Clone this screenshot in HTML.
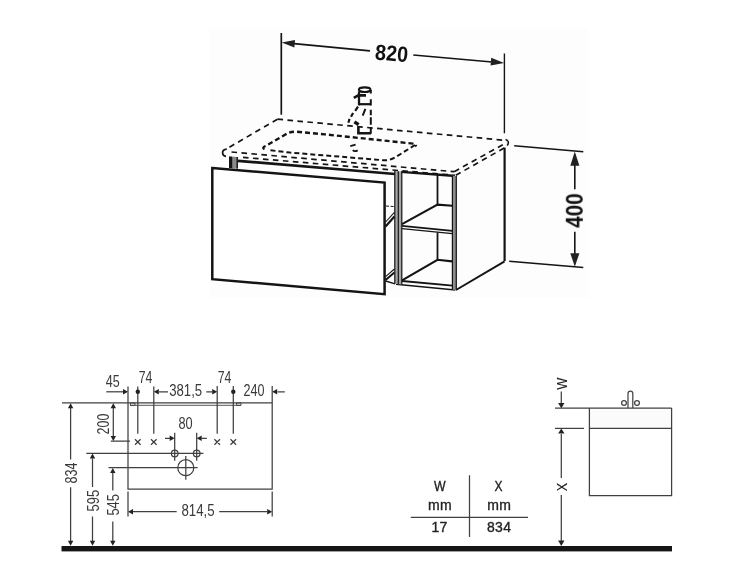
<!DOCTYPE html>
<html>
<head>
<meta charset="utf-8">
<title>Vanity unit 820 technical drawing</title>
<style>
html,body{margin:0;padding:0;background:#fff;}
body{width:750px;height:563px;overflow:hidden;font-family:"Liberation Sans",sans-serif;}
svg{display:block;position:absolute;left:0;top:0;}
text{font-family:"Liberation Sans",sans-serif;}
.d{fill:#3a3a3a;font-size:17px;}
.t{fill:#222;stroke:#222;stroke-width:0.35;font-size:14px;letter-spacing:0.4px;}
.b{fill:#111;font-weight:bold;font-size:22px;}
.ln{stroke:#404040;stroke-width:1.25;fill:none;}
.ar{fill:#222;stroke:none;}
</style>
</head>
<body>
<svg width="750" height="563" viewBox="0 0 750 563">
<defs><filter id="nf" x="-10%" y="-10%" width="120%" height="120%"><feOffset dx="0" dy="0"/></filter></defs>
<rect x="0" y="0" width="750" height="563" fill="#ffffff"/>
<rect x="210" y="29" width="378" height="269" fill="#fdfdfd"/>

<!-- ================= TOP PERSPECTIVE DRAWING ================= -->
<g id="persp" fill="none" stroke="#141414" stroke-linecap="butt" stroke-linejoin="miter">

  <!-- 820 dimension -->
  <g stroke-width="1.7">
    <line x1="281.3" y1="33" x2="281.3" y2="114.7"/>
    <line x1="504.4" y1="53.5" x2="504.4" y2="133.3" stroke-width="1.4"/>
    <line x1="294" y1="43.7" x2="370" y2="50.8"/>
    <line x1="413.3" y1="55" x2="492" y2="62"/>
  </g>
  <path class="ar" d="M281.7 42.4 L295 40 L294.4 47.6 Z"/>
  <path class="ar" d="M504.2 63.1 L491.2 57.8 L490.6 65.4 Z"/>

  <!-- 400 dimension -->
  <g stroke-width="1.6">
    <line x1="514.2" y1="145.8" x2="583.3" y2="151.7"/>
    <line x1="509.2" y1="261.3" x2="583.3" y2="267.5"/>
    <line x1="574.8" y1="165" x2="574.8" y2="189.2"/>
    <line x1="574.8" y1="231.7" x2="574.8" y2="254"/>
  </g>
  <path class="ar" d="M574.8 151.6 L570.3 165.8 L579.4 165.8 Z"/>
  <path class="ar" d="M574.8 266.8 L570.3 253.2 L579.4 253.2 Z"/>

  <!-- countertop (dashed) -->
  <g stroke-width="1.7" stroke-dasharray="5.6 4.4">
    <path d="M277.5 119.2 L507 140.5"/>
    <path d="M277.5 119.2 L227 148.6"/>
    <path d="M231.5 152 L454.2 171.7"/>
    <path d="M243 157.4 L455 175.3"/>
    <path d="M454.2 171.7 L506.7 142.5"/>
    <path d="M455.8 175.3 L505 147.5"/>
  </g>
  <path d="M226.8 149.2 C223.6 149.6 222.4 151.2 222.6 153 C222.8 155 224.2 156.2 226 156.4" stroke-width="1.7"/>
  <path d="M505.5 139.5 C508.5 140 509.3 142.6 507.2 145.6" stroke-width="1.5"/>

  <!-- basin (dashed, heavier) -->
  <g stroke-width="2" stroke-dasharray="5 3">
    <path d="M415 145 L395 157.5 C391 159.8 387 160.6 383 160.2 L290 152.6 L268 150"/>
    <path d="M264.5 149.2 C262.5 148.4 263 147 265.5 146 L283.3 135.8 C288 132.6 292 131.4 296.7 131.7 L325 134.4 L411 143.4 C415.6 143.8 417.4 144.4 415 146.4" stroke-width="2.4"/>
  </g>
  <path d="M350.3 146.2 L355.6 144.7 M352.8 150.2 Q354.4 152 357.7 150.4" stroke-width="1.9"/>

  <!-- faucet -->
  <g stroke-width="2.3">
    <ellipse cx="364.7" cy="89.7" rx="5.8" ry="2.3" stroke-width="2.1"/>
    <path d="M359 91.5 L359 105.4"/>
    <path d="M370.8 90 L370.8 93.4 M370.8 99.2 L370.8 105.6 M370.8 109.8 L370.8 115.2 M370.8 117.3 L370.8 124.8 M370.8 126.9 L370.8 133.6" stroke-width="2"/>
    <path d="M353.8 97.9 L358.4 95.4 L366 95.4" stroke-width="2.6"/>
    <path d="M359 104.2 L371 104.2" stroke-width="2.2"/>
    <path d="M358 106.6 L355.2 110.9 M353.1 113 L351 116.8 M349.5 118.9 L348.4 122.8" stroke-width="2.2"/>
    <path d="M365.4 108.8 L362.7 115.7" stroke-width="2"/>
    <path d="M354.4 121.8 L358.6 124.6" stroke-width="3.4"/>
    <path d="M358.4 126.9 L358.4 133.3 L371.2 133.3" stroke-width="2.6"/>
  </g>

  <!-- cabinet body -->
  <g stroke-width="2.7">
    <path d="M238 160.8 L395 174"/>
    <path d="M504.6 147.6 L504.6 261" stroke-width="2.2"/>
  </g>
  <g stroke-width="1.8">
    <path d="M401 171.9 L452.4 175.8" stroke-width="2.4"/>
    <path d="M504.6 261.3 L456 290" stroke-width="2"/>
    <path d="M385.6 281 L395 283.8" stroke-width="1.4"/>
    <path d="M437.5 175 L437.5 204.6 M437.5 232.4 L437.5 259.8"/>
    <path d="M402 224.2 L437.5 204.6 L452.4 205.8" stroke-width="2.1"/>
    <path d="M402 225.8 L452.4 230.8" stroke-width="1.8"/>
    <path d="M402 228.6 L452.4 233.6" stroke-width="1.2"/>
    <path d="M402 280.4 L437.5 259.8 L452.2 261.4" stroke-width="2.1"/>
    <path d="M402 281 L455.3 285.8" stroke-width="1.8"/>
    <path d="M396 284.2 L455.3 290" stroke-width="1.4"/>
  </g>
  <!-- divider strip -->
  <path d="M394.8 171 L401.8 171.6 L401.8 284.4 L394.8 283.8 Z" fill="#a6a6a6" stroke="none"/>
  <g stroke-width="1.2">
    <path d="M394.8 171 L394.8 283.8 M398.3 171.3 L398.3 284 M401.8 171.6 L401.8 284.4"/>
  </g>
  <!-- front right post -->
  <path d="M452.4 175.8 L456.3 176 L456.3 290 L452.4 289.6 Z" fill="#8c8c8c" stroke="none"/>
  <g stroke-width="1.2">
    <path d="M452.4 175.8 L452.4 289.6 M456.3 176 L456.3 290"/>
  </g>

  <!-- drawer rails -->
  <g stroke-width="1.3">
    <path d="M385.6 226.4 L394.4 216.6" stroke-width="2.2"/><path d="M385.6 222 L394.4 212.4" stroke-width="1.1"/>
    <path d="M385.6 280 L394.4 272.4" stroke-width="2"/><path d="M385.6 276.6 L394.4 269" stroke-width="1.1"/>
    <path d="M386 206 L394.4 206.6" stroke-dasharray="3 1.6" stroke-width="1"/>
  </g>

  <!-- post behind drawer -->
  <path d="M229 156.4 L238 157 L238 168.6 L229 168 Z" fill="#8a8a8a" stroke="none"/>
  <path d="M230.6 156.6 L230.6 168" stroke-width="3.2"/>
  <path d="M237.2 157 L237.2 168.6" stroke-width="1.4"/>

  <!-- drawer front -->
  <path d="M212.3 168 L384.6 182.6 L384.6 294.2 L212.3 279.2 Z" fill="#ffffff" stroke-width="2.5"/>
</g>

<!-- 820 / 400 labels -->
<g filter="url(#nf)">
<text class="b" transform="translate(374.6,59.4) rotate(5) scale(0.9,1)">820</text>
<text class="b" style="font-size:23px" transform="translate(582.8,227.8) rotate(-90) scale(0.9,1)">400</text>
</g>

<!-- ================= BOTTOM LEFT FRONT VIEW ================= -->
<g id="front" class="ln">
  <!-- ground -->
  <rect x="61.5" y="546" width="610.5" height="5.4" fill="#161616" stroke="none"/>

  <!-- body -->
  <path d="M62 402.8 L272.2 402.8"/>
  <path d="M128 386.5 L128 489 L272.2 489 L272.2 386"/>
  <path d="M130 405.4 L241 405.4" stroke="#777"/>
  <path d="M130.4 403 L135 403 L135 405.4 L130.4 405.4 Z M236.6 403 L241 403 L241 405.4 L236.6 405.4 Z" stroke-width="0.9"/>

  <!-- 834 -->
  <path d="M70.6 408 L70.6 459.5 M70.6 487.2 L70.6 541"/>
  <!-- 595 -->
  <path d="M86.3 453.4 L203.4 453.4"/>
  <path d="M92.5 458.4 L92.5 487 M92.5 516.4 L92.5 541"/>
  <!-- 545 -->
  <path d="M108.6 467.7 L197.6 467.7"/>
  <path d="M112.8 473 L112.8 490.6 M112.8 521.4 L112.8 541"/>
  <!-- 200 -->
  <path d="M113.3 408 L113.3 436 M110.8 441.2 L130 441.2"/>
  <!-- 45 / 74 / 381,5 / 74 / 240 -->
  <path d="M106.3 391.8 L123 391.8"/>
  <path d="M137.8 386.5 L137.8 433.8 M153.8 386.5 L153.8 433.8 M217.2 386 L217.2 433.8 M233.3 386 L233.3 433.8"/>
  <path d="M159 391.8 L168 391.8 M206.3 391.8 L212 391.8 M277.5 391.8 L284.8 391.8"/>
  <!-- 80 -->
  <path d="M174.7 432.8 L174.7 460.8 M196.7 432.8 L196.7 460.8"/>
  <path d="M165 438.3 L170 438.3 M201.5 438.3 L206.8 438.3"/>
  <circle cx="174.7" cy="453.4" r="3.3"/>
  <circle cx="196.7" cy="453.4" r="3.3"/>
  <circle cx="185.8" cy="467.7" r="8"/>
  <path d="M185.8 456 L185.8 479.8"/>
  <!-- x marks -->
  <path d="M135 439.2 l5.6 5.6 m0 -5.6 l-5.6 5.6 M151 439.2 l5.6 5.6 m0 -5.6 l-5.6 5.6 M214.4 439.2 l5.6 5.6 m0 -5.6 l-5.6 5.6 M230.5 439.2 l5.6 5.6 m0 -5.6 l-5.6 5.6"/>
  <!-- 814,5 -->
  <path d="M128 491.5 L128 516.5 M272.2 491.5 L272.2 516.5"/>
  <path d="M133 511.7 L176.7 511.7 M219.2 511.7 L267 511.7"/>
</g>
<g class="ar">
  <circle cx="137.8" cy="391.8" r="2.2"/>
  <circle cx="233.3" cy="391.8" r="2.2"/>
  <!-- 834 -->
  <path d="M70.6 403.2 l-2.7 5 h5.4 Z M70.6 545.8 l-2.7 -5 h5.4 Z"/>
  <!-- 595 -->
  <path d="M92.5 453.6 l-2.7 5 h5.4 Z M92.5 545.8 l-2.7 -5 h5.4 Z"/>
  <!-- 545 -->
  <path d="M112.8 468 l-2.7 5 h5.4 Z M112.8 545.8 l-2.7 -5 h5.4 Z"/>
  <!-- 200 -->
  <path d="M113.3 403.2 l-2.7 5 h5.4 Z M113.3 441 l-2.7 -5 h5.4 Z"/>
  <!-- horizontal -->
  <path d="M128 391.8 l-5 -2.7 v5.4 Z"/>
  <path d="M153.8 391.8 l5 -2.7 v5.4 Z"/>
  <path d="M217.2 391.8 l-5 -2.7 v5.4 Z"/>
  <path d="M272.2 391.8 l5 -2.7 v5.4 Z"/>
  <path d="M174.7 438.3 l-5 -2.7 v5.4 Z"/>
  <path d="M196.7 438.3 l5 -2.7 v5.4 Z"/>
  <path d="M128 511.7 l5 -2.7 v5.4 Z"/>
  <path d="M272.2 511.7 l-5 -2.7 v5.4 Z"/>
</g>
<g class="d" filter="url(#nf)">
  <text transform="translate(105.8,387.4) scale(0.74,1)">45</text>
  <text transform="translate(138.8,383.2) scale(0.72,1)">74</text>
  <text transform="translate(169.2,396.2) scale(0.776,1)">381,5</text>
  <text transform="translate(217.8,383.2) scale(0.72,1)">74</text>
  <text transform="translate(243.6,396.2) scale(0.74,1)">240</text>
  <text transform="translate(178.4,429.2) scale(0.75,1)">80</text>
  <text transform="translate(181.4,515.5) scale(0.78,1)">814,5</text>
  <text transform="translate(109.2,434.4) rotate(-90) scale(0.73,1)">200</text>
  <text transform="translate(77.2,483.6) rotate(-90) scale(0.74,1)">834</text>
  <text transform="translate(99,511.4) rotate(-90) scale(0.76,1)">595</text>
  <text transform="translate(118.8,515.6) rotate(-90) scale(0.76,1)">545</text>
</g>

<!-- ================= TABLE ================= -->
<g class="ln" stroke="#444">
  <path d="M469.5 475.3 L469.5 537"/>
  <path d="M410.8 517.3 L528 517.3"/>
</g>
<g class="t" text-anchor="middle" filter="url(#nf)">
  <text transform="translate(440,490.8) scale(0.88,1)">W</text>
  <text x="440" y="509.8">mm</text>
  <text x="439.6" y="532.4">17</text>
  <text transform="translate(498.8,490.8) scale(0.86,1)">X</text>
  <text x="499.2" y="509.8">mm</text>
  <text x="499.2" y="532.4">834</text>
</g>

<!-- ================= RIGHT SIDE VIEW ================= -->
<g class="ln" stroke="#2a2a2a">
  <rect x="589.4" y="408.1" width="82.2" height="20.3" fill="#fbfbfb" stroke="none"/>
  <path d="M555 408.1 L671.6 408.1"/>
  <path d="M555 428.4 L584 428.4"/>
  <path d="M589.4 408.1 L589.4 495.5 L671.6 495.5 L671.6 408.1"/>
  <path d="M589.4 428.4 L671.6 428.4"/>
  <path d="M561.3 391.4 L561.3 403"/>
  <path d="M561.3 434 L561.3 478 M561.3 495 L561.3 541"/>
  <!-- faucet symbol -->
  <path d="M628 408 L628 393.6 A2.4 2.4 0 0 1 632.8 393.6 L632.8 408" stroke="#444"/>
  <circle cx="624" cy="403" r="2.4" stroke="#444"/>
  <circle cx="637" cy="403" r="2.4" stroke="#444"/>
</g>
<g class="ar">
  <path d="M561.3 408.2 l-3.2 -5.2 h6.4 Z"/>
  <path d="M561.3 428.4 l-3.2 5.2 h6.4 Z"/>
  <path d="M561.3 546 l-3.2 -5.4 h6.4 Z"/>
</g>
<g class="t" style="letter-spacing:0;stroke-width:0.1" filter="url(#nf)">
  <text transform="translate(566.6,389.8) rotate(-90) scale(0.92,1)">W</text>
  <text transform="translate(566.8,491.2) rotate(-90) scale(0.9,1)">X</text>
</g>
</svg>
</body>
</html>
